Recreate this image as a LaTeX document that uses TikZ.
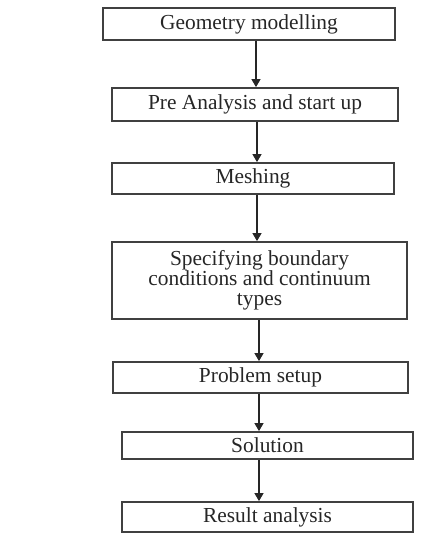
\documentclass[tikz,border=0pt]{standalone}
\usepackage{fontspec}
\setmainfont{Liberation Serif}
\usetikzlibrary{arrows.meta}
\tikzset{every picture/.style={line width=0.6pt}}
\tikzset{
  stage/.style={draw=black!75, line width=0.9pt, rectangle, inner sep=0pt,
    text=black!85, align=center, font=\fontsize{10.7}{10}\selectfont},
  flow/.style={-{Triangle[width=4.5pt,length=4pt]}, black!85, line width=0.6pt}
}

\begin{document}
\begin{tikzpicture}[x=0.5pt, y=-0.5pt]
\useasboundingbox (0,0) rectangle (427,548);
\node[stage, minimum width=146pt, minimum height=16pt] at (249,24) (geo) {Geometry modelling};
\node[stage, minimum width=143pt, minimum height=16.5pt] at (255,104.5) (pre) {Pre Analysis and start up};
\node[stage, minimum width=141pt, minimum height=15.5pt] at (253,178.5) (mesh) {Meshing};
\node[stage, minimum width=147.5pt, minimum height=38.5pt] at (259.5,280.5) (bc) {Specifying boundary\\conditions and continuum\\types};
\node[stage, minimum width=147.5pt, minimum height=15.5pt] at (260.5,377.5) (setup) {Problem setup};
\node[stage, minimum width=145.5pt, minimum height=13.5pt] at (267.5,445.5) (sol) {Solution};
\node[stage, minimum width=145.5pt, minimum height=15pt] at (267.5,517) (res) {Result analysis};
% arrows
\foreach \a/\b/\s in {geo/pre/3.5pt, pre/mesh/1pt, mesh/bc/2pt, bc/setup/-0.25pt, setup/sol/-0.75pt, sol/res/-4.25pt}
  \draw[flow] ([xshift=\s]\a.south) -- ([xshift=\s]\a.south |- \b.north);
\end{tikzpicture}
\end{document}
